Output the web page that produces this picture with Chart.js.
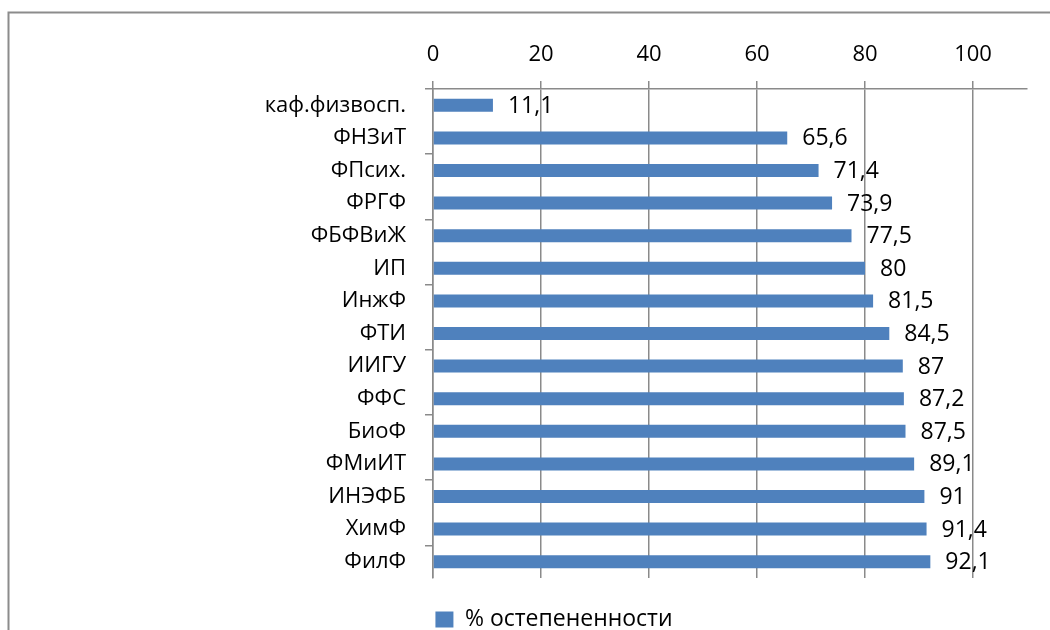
<!DOCTYPE html>
<html><head><meta charset="utf-8">
<script src="https://cdn.jsdelivr.net/npm/chart.js@4.4.1/dist/chart.umd.min.js"></script>
<style>
html,body{margin:0;padding:0;overflow:hidden;background:#fff}
#wrap{width:1050px;height:641px;position:relative}
canvas{display:block}
</style>
</head><body>
<div id="wrap"><canvas id="c" width="1050" height="641" style="width:1050px;height:641px"></canvas></div>
<script>
const categories = ['каф.физвосп.', 'ФНЗиТ', 'ФПсих.', 'ФРГФ', 'ФБФВиЖ', 'ИП', 'ИнжФ', 'ФТИ', 'ИИГУ', 'ФФС', 'БиоФ', 'ФМиИТ', 'ИНЭФБ', 'ХимФ', 'ФилФ'];
const values = [11.1, 65.6, 71.4, 73.9, 77.5, 80, 81.5, 84.5, 87, 87.2, 87.5, 89.1, 91, 91.4, 92.1];
const xTicks = [0, 20, 40, 60, 80, 100];
const seriesName = '% остепененности';

const FONT = '"Open Sans", "Noto Sans", sans-serif';
const GRID = '#8a8a8a';
const BAR = '#4f81bd';

const framePlugin = {
  id: 'frame',
  beforeDraw(chart) {
    const ctx = chart.ctx;
    ctx.save();
    ctx.strokeStyle = '#8c8c8c';
    ctx.lineWidth = 2;
    ctx.strokeRect(8.5, 12.5, 1100, 800);
    ctx.restore();
  }
};

const labelPlugin = {
  id: 'valueLabels',
  afterDatasetsDraw(chart) {
    const ctx = chart.ctx;
    const meta = chart.getDatasetMeta(0);
    ctx.save();
    ctx.font = '23px ' + FONT;
    ctx.fillStyle = '#000';
    ctx.textAlign = 'left';
    ctx.textBaseline = 'middle';
    meta.data.forEach((bar, i) => {
      const v = chart.data.datasets[0].data[i];
      ctx.fillText(String(v).replace('.', ','), bar.x + 15, bar.y + 1);
    });
    ctx.restore();
  }
};

function draw() {
  new Chart(document.getElementById('c'), {
    type: 'bar',
    data: {
      labels: categories,
      datasets: [{
        label: seriesName,
        data: values,
        backgroundColor: BAR,
        borderWidth: 0,
        barPercentage: 0.4,
        categoryPercentage: 1.0
      }]
    },
    plugins: [framePlugin, labelPlugin],
    options: {
      indexAxis: 'y',
      responsive: false,
      animation: false,
      devicePixelRatio: 1,
      layout: { padding: { left: 81, right: 23, top: 0, bottom: 0 } },
      plugins: {
        tooltip: { enabled: false },
        legend: {
          display: true,
          position: 'bottom',
          labels: {
            color: '#000',
            font: { family: FONT, size: 23 },
            boxWidth: 18,
            boxHeight: 16,
            padding: 30
          }
        }
      },
      scales: {
        x: {
          position: 'top',
          min: 0,
          max: 110,
          afterBuildTicks(scale) { scale.ticks = xTicks.map(v => ({ value: v })); },
          afterFit(scale) { scale.height = 89; },
          ticks: {
            color: '#000',
            font: { family: FONT, size: 22 },
            padding: 13
          },
          grid: {
            color: GRID,
            lineWidth: 1.5,
            tickLength: 8,
            drawTicks: true
          },
          border: { display: true, color: GRID, width: 1.5 }
        },
        y: {
          afterFit(scale) { scale.width = 352; },
          ticks: {
            color: '#000',
            font: { family: FONT, size: 22 },
            padding: 19,
            autoSkip: false
          },
          grid: {
            offset: true,
            drawOnChartArea: false,
            drawTicks: true,
            tickLength: 8,
            lineWidth: 1.5,
            color: (ctx) => (typeof ctx.index === 'number' && ctx.index % 2 === 0) ? GRID : 'rgba(0,0,0,0)'
          },
          border: { display: true, color: GRID, width: 1.5 }
        }
      }
    }
  });
}

if (document.fonts && document.fonts.load) {
  Promise.all([document.fonts.load('23px "Open Sans"'), document.fonts.load('22px "Open Sans"')]).then(draw, draw);
} else { draw(); }
</script>
</body></html>
